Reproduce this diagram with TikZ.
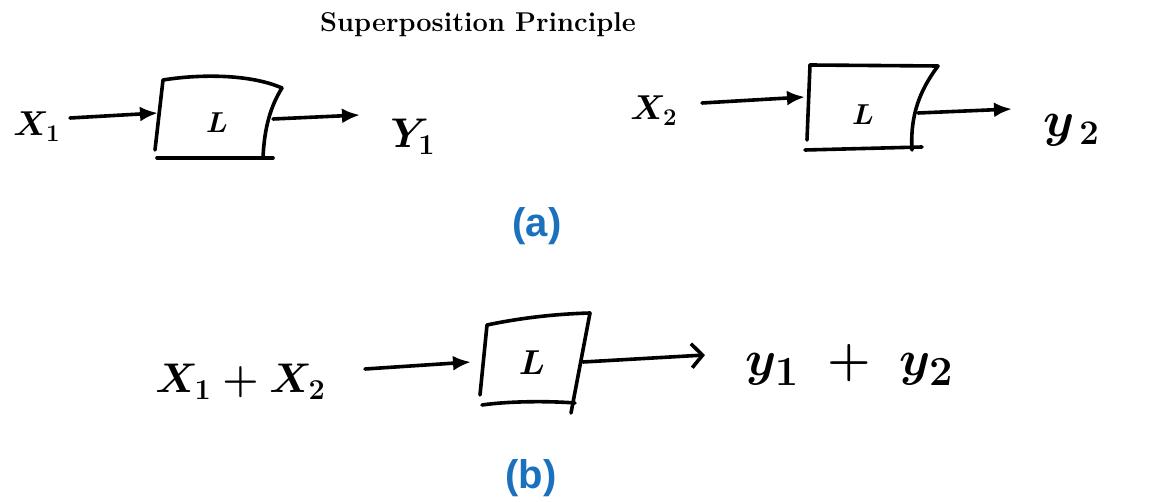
\documentclass[tikz,border=0pt]{standalone}
\usepackage{fontspec}
\newfontfamily\labfont{Liberation Sans}
\usetikzlibrary{arrows.meta}
\definecolor{capblue}{RGB}{28,113,190}
\begin{document}
\begin{tikzpicture}[x=0.5pt,y=-0.5pt,
  hand/.style={line width=1.8pt, line cap=round, line join=round},
  arr/.style={hand, -{Latex[length=9pt,width=7.5pt]}},
  barb/.style={hand, -{Straight Barb[length=5.5pt,width=12pt,line width=1.8pt]}},
  lab/.style={inner sep=0pt, font=\boldmath\fontsize{18}{20}\selectfont},
  elL/.style={inner sep=0pt, font=\boldmath\fontsize{15}{17}\selectfont},
  capt/.style={font=\labfont\bfseries\fontsize{20}{22}\selectfont, text=capblue, inner sep=0pt},
  ttl/.style={font=\bfseries\fontsize{13.6}{15}\selectfont, inner sep=0pt}]
\useasboundingbox (0,0) rectangle (1158,502);

% title
\node[ttl, anchor=base] (title) at (478,32) {Superposition Principle};

% ---------- panel (a), left ----------
\node[lab, anchor=base west] (x1) at (13,136) {$X_1$};
\node[lab, anchor=base west, font=\boldmath\fontsize{21}{23}\selectfont] (y1) at (390,148) {$Y_1$};
\coordinate (A1tl) at (163,80);
\coordinate (A1tr) at (282,88);
\coordinate (A1br) at (263,158);
\coordinate (A1bl) at (155,150);
\draw[hand] (A1tl) .. controls (200,74) and (250,74) .. (A1tr);
\draw[hand] (A1tr) .. controls (268,110) and (264,135) .. (A1br);
\draw[hand] (157,158) -- (273,158);
\draw[hand] (A1tl) -- (A1bl);
\node[elL] (L1) at (217,123) {$L$};
\coordinate (a1s) at (70,118);
\coordinate (a1e) at (158,113);
\coordinate (a1o) at (273,119);
\coordinate (a1t) at (360,115);
\draw[arr] (a1s) -- (a1e);
\draw[arr] (a1o) -- (a1t);

% ---------- panel (a), right ----------
\node[lab, anchor=base west] (x2) at (630,120) {$X_2$};
\node[lab, anchor=base west, font=\boldmath\fontsize{26}{28}\selectfont] (y2) at (1043,137) {$y_{\,2}$};
\coordinate (A2tl) at (810,65);
\coordinate (A2tr) at (938,66);
\coordinate (A2br) at (912,150);
\coordinate (A2bl) at (807,140);
\draw[hand] (A2tl) -- (A2tr);
\draw[hand] (A2tr) .. controls (920,90) and (910,115) .. (A2br);
\draw[hand] (805,150) -- (922,147);
\draw[hand] (A2tl) -- (A2bl);
\node[elL] (L2) at (863,115) {$L$};
\coordinate (a2s) at (702,103);
\coordinate (a2e) at (805,97);
\coordinate (a2o) at (918,113);
\coordinate (a2t) at (1012,109);
\draw[arr] (a2s) -- (a2e);
\draw[arr] (a2o) -- (a2t);

\node[capt] (capa) at (537,226) {(a)};

% ---------- panel (b) ----------
\node[lab, anchor=base west, font=\boldmath\fontsize{22}{24}\selectfont] (xs) at (155,393) {$X_1 + X_2$};
\node[lab, anchor=base west, font=\boldmath\fontsize{28}{30}\selectfont] (ys) at (745,376) {$y_1\;+\;y_2$};
\coordinate (Btl) at (487,325);
\coordinate (Btr) at (590,313);
\coordinate (Bbr) at (571,413);
\coordinate (Bbl) at (480,395);
\draw[hand] (Btl) .. controls (520,318) and (555,314) .. (Btr);
\draw[hand] (Btr) -- (Bbr);
\draw[hand] (482,405) .. controls (510,401) and (550,401) .. (575,403);
\draw[hand] (Btl) -- (Bbl);
\node[elL, font=\boldmath\fontsize{17}{19}\selectfont] (LB) at (532,363) {$L$};
\coordinate (bs) at (365,369);
\coordinate (be) at (471,362);
\coordinate (bo) at (583,362);
\coordinate (bt) at (705,355);
\draw[arr] (bs) -- (be);
\draw[barb] (bo) -- (bt);

\node[capt] (capb) at (531,478) {(b)};
\end{tikzpicture}
\end{document}
